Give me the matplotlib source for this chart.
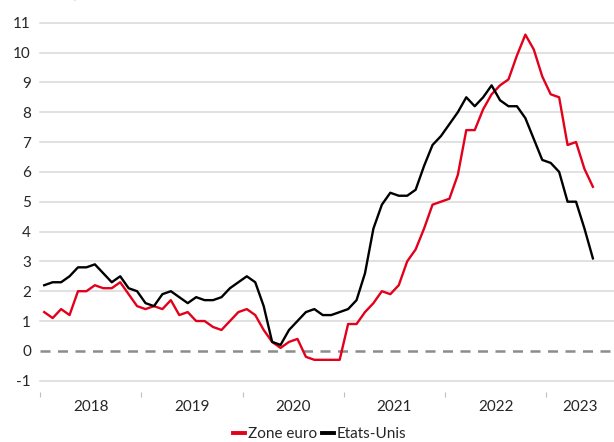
import numpy as np
import matplotlib
matplotlib.use("Agg")
import matplotlib.pyplot as plt

plt.rcParams['font.family'] = ['Lato', 'DejaVu Sans']

# Inflation sur un an, mensuel, janvier 2018 -> juin 2023
zone_euro = [1.3, 1.1, 1.4, 1.2, 2.0, 2.0, 2.2, 2.1, 2.1, 2.3, 1.9, 1.5,
             1.4, 1.5, 1.4, 1.7, 1.2, 1.3, 1.0, 1.0, 0.8, 0.7, 1.0, 1.3,
             1.4, 1.2, 0.7, 0.3, 0.1, 0.3, 0.4, -0.2, -0.3, -0.3, -0.3, -0.3,
             0.9, 0.9, 1.3, 1.6, 2.0, 1.9, 2.2, 3.0, 3.4, 4.1, 4.9, 5.0,
             5.1, 5.9, 7.4, 7.4, 8.1, 8.6, 8.9, 9.1, 9.9, 10.6, 10.1, 9.2,
             8.6, 8.5, 6.9, 7.0, 6.1, 5.5]
etats_unis = [2.2, 2.3, 2.3, 2.5, 2.8, 2.8, 2.9, 2.6, 2.3, 2.5, 2.1, 2.0,
              1.6, 1.5, 1.9, 2.0, 1.8, 1.6, 1.8, 1.7, 1.7, 1.8, 2.1, 2.3,
              2.5, 2.3, 1.5, 0.3, 0.2, 0.7, 1.0, 1.3, 1.4, 1.2, 1.2, 1.3,
              1.4, 1.7, 2.6, 4.1, 4.9, 5.3, 5.2, 5.2, 5.4, 6.2, 6.9, 7.2,
              7.6, 8.0, 8.5, 8.2, 8.5, 8.9, 8.4, 8.2, 8.2, 7.8, 7.1, 6.4,
              6.3, 6.0, 5.0, 5.0, 4.1, 3.1]
years = ['2018', '2019', '2020', '2021', '2022', '2023']
n_categories = 68  # l'axe va jusqu'a aout 2023

months = np.arange(len(zone_euro))

fig = plt.figure(figsize=(6.14, 4.42), dpi=100)
ax = fig.add_axes([40 / 614, 1 - 391.7 / 442, 1 - 40 / 614, (391.7 - 22.7) / 442])

# grille
for v in range(-1, 12):
    if v == 0:
        continue
    ax.axhline(v, color='#d9d9d9', lw=1.1, zorder=1, clip_on=False)
ax.axhline(0, color='#8c8c8c', lw=1.8, ls=(0, (4, 3)), zorder=1)

ax.plot(months, zone_euro, color='#e3001b', lw=1.7, label='Zone euro', zorder=3)
ax.plot(months, etats_unis, color='black', lw=1.7, label='Etats-Unis', zorder=3)

ax.set_xlim(-0.5, n_categories - 0.5)
ax.set_ylim(-1 - 11 / 29.83, 11)

ax.set_yticks(range(-1, 12))
ax.set_yticklabels([str(v) for v in range(-1, 12)])
ax.tick_params(axis='y', length=0, pad=6.5, labelsize=11, labelcolor='#262626')

# graduations entre les annees, libelles au centre
bounds = [-0.5 + 12 * i for i in range(len(years))]
ax.set_xticks(bounds)
ax.set_xticklabels([])
ax.tick_params(axis='x', which='major', length=3.5, width=0.8, color='#bfbfbf', direction='out')
centers = [b + 6 for b in bounds[:-1]] + [(bounds[-1] + n_categories - 0.5) / 2]
ax.set_xticks(centers, minor=True)
ax.set_xticklabels(years, minor=True)
ax.tick_params(axis='x', which='minor', length=0, pad=6, labelsize=11, labelcolor='#262626')

for s in ax.spines.values():
    s.set_visible(False)

# titre coupe en haut de l'image, comme sur l'original
fig.text(40 / 614, 1 + 1 / 442, 'En %, sur un an', color='#b0b0b0', fontsize=11,
         ha='left', va='baseline')

leg = fig.legend(loc='center', bbox_to_anchor=(320 / 614, 1 - 434 / 442), ncol=2, frameon=False,
                 fontsize=11, handlelength=0.75, handletextpad=0.2, columnspacing=0.35,
                 borderpad=0, borderaxespad=0)
for line in leg.get_lines():
    line.set_linewidth(2.8)
for t in leg.get_texts():
    t.set_color('#262626')

fig.savefig('out.png', dpi=100)
